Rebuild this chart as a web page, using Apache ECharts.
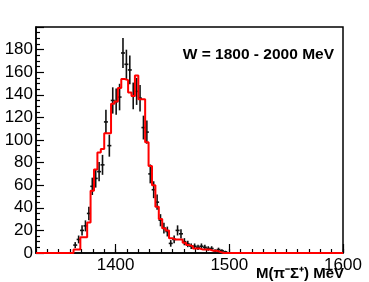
<!DOCTYPE html>
<html>
<head>
<meta charset="utf-8">
<script src="https://cdn.jsdelivr.net/npm/echarts@6/dist/echarts.min.js"></script>
<style>
  html, body { margin: 0; padding: 0; background: #fff; }
  #chart { width: 369px; height: 282px; }
</style>
</head>
<body>
<div id="chart"></div>
<script>
// 3 MeV bins from 1330 to 1600
var binStart = 1330;
var binWidth = 3;

// fitted histogram (red), one value per bin
var fitCounts = [
  0, 0, 0, 0, 0, 0, 0, 0, 0, 0,
  0, 3, 3, 14, 14, 27, 55, 74, 89, 92,
  106, 106, 132, 134, 146, 154, 153, 142, 139, 157,
  136, 136, 98, 77, 60, 41, 30, 22, 20, 13,
  12, 12, 12, 9, 7, 6, 4, 4, 3, 3,
  3, 2, 2, 1, 0, 0, 0, 0, 0, 0,
  0, 0, 0, 0, 0, 0, 0, 0, 0, 0,
  0, 0, 0, 0, 0, 0, 0, 0, 0, 0,
  0, 0, 0, 0, 0, 0, 0, 0, 0, 0
];

// measured points (black), bin index and counts
var dataBins = [11, 12, 13, 14, 15, 16, 17, 18, 19, 20,
                21, 22, 23, 24, 25, 26, 27, 28, 29, 30,
                31, 32, 33, 34, 35, 36, 37, 38, 39, 40,
                41, 42, 43, 44, 45, 46, 47, 48, 49, 50,
                51, 52, 53, 54, 55];
var dataCounts = [7, 12, 20, 24, 35, 59, 66, 72, 78, 116,
                  95, 135, 134, 138, 177, 167, 162, 139, 143, 137,
                  111, 107, 70, 56, 45, 29, 22, 19, 8.5, 12,
                  20, 17, 10, 8, 6, 6, 5, 6, 5, 4,
                  4, 2, 3, 2, 1];

var xMajorTicks = [1400, 1500, 1600];

var fitLine = fitCounts.map(function (v, i) { return [binStart + i * binWidth, v]; });
fitLine.push([binStart + fitCounts.length * binWidth, 0]);

var points = dataBins.map(function (b, i) {
  var v = dataCounts[i];
  return [binStart + (b + 0.5) * binWidth, v, Math.sqrt(v)];
});

var chart = echarts.init(document.getElementById('chart'));
var font = 'Liberation Sans';

var option = {
  animation: false,
  backgroundColor: '#fff',
  title: [{
    text: 'W = 1800 - 2000 MeV',
    right: 30, top: 42,
    textStyle: { fontFamily: font, fontSize: 15.5, fontWeight: 'bold', color: '#000' }
  }, {
    text: 'M(π⁻Σ⁺) MeV',
    right: 20, top: 260,
    textStyle: { fontFamily: font, fontSize: 15, fontWeight: 'bold', color: '#000', lineHeight: 17 }
  }],
  grid: {
    left: 36, right: 26, top: 27, bottom: 29,
    show: true, borderColor: '#000', borderWidth: 1.5
  },
  xAxis: [{
    type: 'value', min: 1330, max: 1600, interval: 10,
    axisLine: { show: true, lineStyle: { color: '#000', width: 1.5 } },
    axisTick: { inside: true, length: 4, lineStyle: { color: '#000', width: 1.2 } },
    axisLabel: {
      margin: 4, fontFamily: font, fontSize: 17, color: '#000',
      formatter: function (v) { return v % 100 === 0 ? String(v) : ''; }
    },
    splitLine: { show: false }
  }, {
    type: 'value', min: 1330, max: 1600, position: 'bottom',
    axisLine: { show: false },
    axisTick: { show: true, inside: true, length: 9, customValues: xMajorTicks, lineStyle: { color: '#000', width: 1.2 } },
    axisLabel: { show: false },
    splitLine: { show: false }
  }],
  yAxis: {
    type: 'value', min: 0, max: 200, interval: 20,
    axisLine: { show: true, lineStyle: { color: '#000', width: 1.5 } },
    axisTick: { inside: true, length: 8, lineStyle: { color: '#000', width: 1.2 } },
    minorTick: { show: true, splitNumber: 4, length: 4, lineStyle: { color: '#000', width: 1.2 } },
    axisLabel: {
      margin: 3, fontFamily: font, fontSize: 17, color: '#000',
      formatter: function (v) { return v === 200 ? '' : String(v); }
    },
    splitLine: { show: false }
  },
  series: [{
    type: 'custom',
    xAxisIndex: 0,
    z: 2,
    data: points,
    renderItem: function (params, api) {
      var x = api.value(0), y = api.value(1), e = api.value(2);
      var c = api.coord([x, y]);
      var hi = api.coord([x, y + e]);
      var lo = api.coord([x, Math.max(y - e, 0)]);
      return {
        type: 'group',
        children: [{
          type: 'line',
          shape: { x1: c[0], y1: hi[1], x2: c[0], y2: lo[1] },
          style: { stroke: '#111', lineWidth: 1.6 }
        }, {
          type: 'line',
          shape: { x1: c[0] - 2, y1: c[1], x2: c[0] + 2, y2: c[1] },
          style: { stroke: '#111', lineWidth: 1.6 }
        }]
      };
    }
  }, {
    type: 'line',
    xAxisIndex: 0,
    z: 3,
    step: 'end',
    symbol: 'none',
    data: fitLine,
    lineStyle: { color: '#ff0000', width: 2 }
  }]
};

chart.setOption(option);
</script>
</body>
</html>
